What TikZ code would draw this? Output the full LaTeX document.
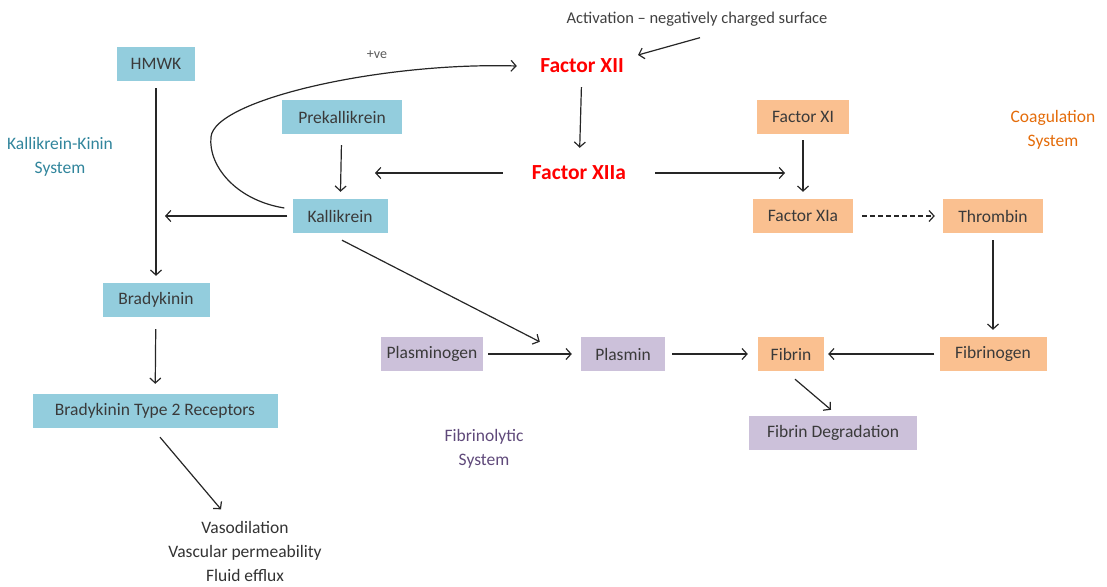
\documentclass[tikz,border=0pt]{standalone}
\usepackage{fontspec}
\setmainfont{Carlito}
\usetikzlibrary{arrows.meta,calc}
\definecolor{tealbox}{HTML}{93CDDD}
\definecolor{orangebox}{HTML}{FAC090}
\definecolor{purplebox}{HTML}{CCC1DA}
\definecolor{boxtext}{HTML}{3A3A3A}
\definecolor{tealtext}{HTML}{31859C}
\definecolor{orangetext}{HTML}{E46C0A}
\definecolor{purpletext}{HTML}{5F497A}
\definecolor{redtext}{HTML}{FF0000}
\tikzset{
  box/.style={minimum height=34pt, inner sep=0pt, text=boxtext, font=\fontsize{17.5}{21}\selectfont},
  kbox/.style={box, fill=tealbox},
  cbox/.style={box, fill=orangebox},
  fbox/.style={box, fill=purplebox},
  factor/.style={inner sep=0pt, minimum height=34pt, text=redtext, font=\fontsize{21.5}{26}\selectfont\bfseries},
  lbl/.style={align=center, font=\fontsize{17.5}{24}\selectfont},
  arr/.style={draw=black!85, line width=1.2pt, -{Straight Barb[length=5pt,width=11pt]}},
}
\begin{document}
\begin{tikzpicture}[x=1pt,y=-1pt]
\useasboundingbox (0,0) rectangle (1107,586);
% nodes
\node[kbox, minimum width=78pt] (hmwk) at (156,64) {HMWK};
\node[kbox, minimum width=120pt] (pre) at (342,117) {Prekallikrein};
\node[kbox, minimum width=95pt] (kal) at (340,216) {Kallikrein};
\node[kbox, minimum width=107pt] (brad) at (156,300) {Bradykinin};
\node[kbox, minimum width=245pt] (b2r) at (155,411) {Bradykinin Type 2 Receptors};
\node[factor, minimum width=130pt] (f12) at (582,66) {Factor XII};
\node[factor, minimum width=152pt] (f12a) at (579,173) {Factor XIIa};
\node[cbox, minimum width=92pt] (f11) at (803,117) {Factor XI};
\node[cbox, minimum width=100pt] (f11a) at (803,216) {Factor XIa};
\node[cbox, minimum width=100pt] (thr) at (993,216) {Thrombin};
\node[cbox, minimum width=107pt] (fgen) at (993,354) {Fibrinogen};
\node[cbox, minimum width=66pt] (fib) at (791,354) {Fibrin};
\node[fbox, minimum width=84pt] (pla) at (623,354) {Plasmin};
\node[fbox, minimum width=102pt] (pgen) at (432,354) {Plasminogen};
\node[fbox, minimum width=168pt] (fdeg) at (833,433) {Fibrin Degradation};
\node[font=\fontsize{16.5}{19}\selectfont, text=black!75] (act) at (697,19) {Activation -- negatively charged surface};
\node[font=\fontsize{14}{16}\selectfont, text=black!65] (pve) at (377,55) {+ve};
\node[lbl, text=tealtext] (kks) at (60,157) {Kallikrein-Kinin\\System};
\node[lbl, text=orangetext] (cs) at (1053,130) {Coagulation\\System};
\node[lbl, text=purpletext] (fs) at (484,449) {Fibrinolytic\\System};
\node[lbl, text=black!80] (eff) at (245,551) {Vasodilation\\Vascular permeability\\Fluid efflux};
% connectors
\draw[arr] ($(act.south)+(3,8)$) -- ($(f12)+(56,-11)$);
\draw[arr, shorten <=4pt, shorten >=8pt] (f12) -- (f12a);
\draw[arr, shorten >=33pt] (f12a.west) -- (f12a.west -| pre);
\draw[arr, shorten >=18pt] (f12a.east) -- (f12a.east -| f11);
\draw[arr, shorten <=6pt, shorten >=7pt] (f11) -- (f11a);
\draw[arr, shorten <=11pt, shorten >=7pt] (pre) -- (kal);
\draw[arr, shorten <=5pt, shorten >=9pt] (kal.west) -- (kal.west -| hmwk);
\draw[arr, shorten <=7pt, shorten >=7pt] (hmwk) -- (brad);
\draw[arr, shorten <=12pt, shorten >=10pt] (brad) -- (b2r);
\draw[arr] ($(b2r.south)+(5,9)$) -- ($(eff.north)+(-24,-8)$);
\draw[arr] ($(kal.south)+(2,7)$) -- ($(pla.north west)+(-41,5)$);
\draw[arr, shorten <=5pt, shorten >=9pt] (pgen) -- (pla);
\draw[arr, shorten <=7pt, shorten >=10pt] (pla) -- (fib);
\draw[arr, shorten <=5pt, shorten >=4pt] (fgen) -- (fib);
\draw[arr, shorten <=7pt, shorten >=7pt] (thr) -- (fgen);
\draw[arr, dashed, dash pattern=on 5pt off 3pt, shorten <=9pt, shorten >=8pt] (f11a) -- (thr);
\draw[arr] ($(fib.south)+(4,8)$) -- ($(fdeg.north)+(-2,-6)$);
\draw[arr] ($(kal.west)+(-8,-8)$) .. controls (235,200) and (208,165) .. (211,137)
   .. controls (214,100) and (380,62) .. (f12.west);
\end{tikzpicture}
\end{document}
